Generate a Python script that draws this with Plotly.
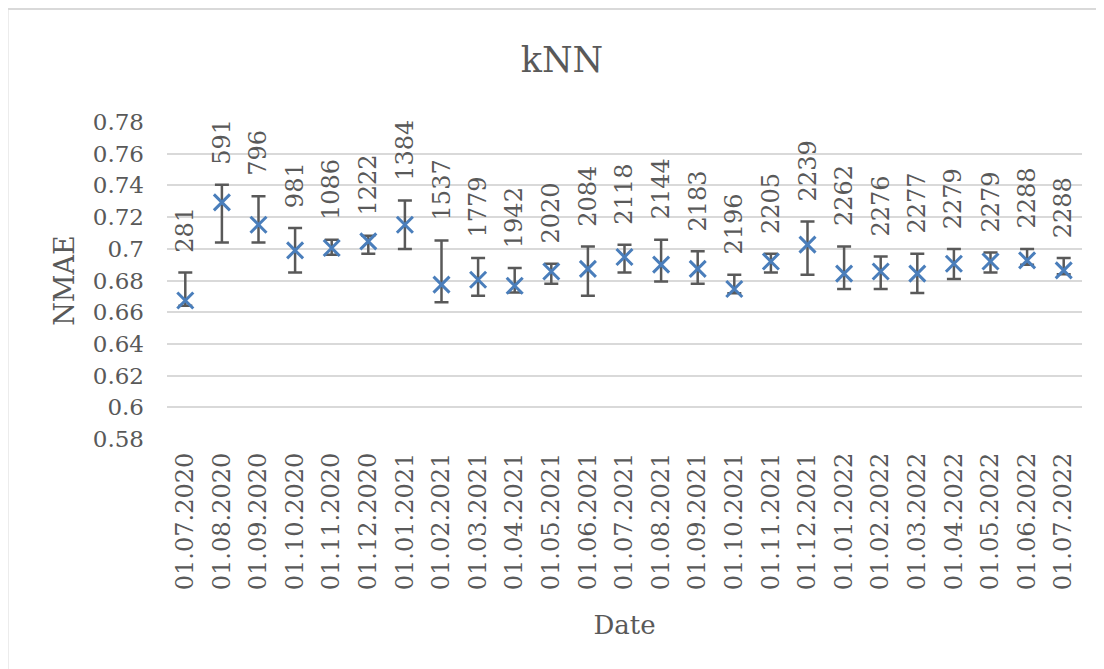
import plotly.graph_objects as go

dates = ["01.07.2020", "01.08.2020", "01.09.2020", "01.10.2020", "01.11.2020",
         "01.12.2020", "01.01.2021", "01.02.2021", "01.03.2021", "01.04.2021",
         "01.05.2021", "01.06.2021", "01.07.2021", "01.08.2021", "01.09.2021",
         "01.10.2021", "01.11.2021", "01.12.2021", "01.01.2022", "01.02.2022",
         "01.03.2022", "01.04.2022", "01.05.2022", "01.06.2022", "01.07.2022"]
nmae = [0.6674, 0.7293, 0.7152, 0.6990, 0.7005, 0.7047, 0.7152, 0.6774, 0.6805, 0.6767,
        0.6857, 0.6873, 0.6948, 0.6900, 0.6873, 0.6746, 0.6920, 0.7026, 0.6843, 0.6857,
        0.6843, 0.6906, 0.6920, 0.6927, 0.6864]
upper = [0.6851, 0.7404, 0.7331, 0.7131, 0.7057, 0.7083, 0.7305, 0.7053, 0.6942, 0.6879,
         0.6906, 0.7015, 0.7026, 0.7057, 0.6984, 0.6837, 0.6969, 0.7173, 0.7015, 0.6952,
         0.6969, 0.6999, 0.6977, 0.6999, 0.6942]
lower = [0.6640, 0.7040, 0.7040, 0.6851, 0.6963, 0.6969, 0.6999, 0.6662, 0.6704, 0.6725,
         0.6780, 0.6704, 0.6851, 0.6794, 0.6780, 0.6720, 0.6851, 0.6837, 0.6746, 0.6746,
         0.6721, 0.6809, 0.6851, 0.6900, 0.6840]
counts = ["281", "591", "796", "981", "1086", "1222", "1384", "1537", "1779", "1942",
          "2020", "2084", "2118", "2144", "2183", "2196", "2205", "2239", "2262", "2276",
          "2277", "2279", "2279", "2288", "2288"]
y_ticks = [0.58, 0.60, 0.62, 0.64, 0.66, 0.68, 0.70, 0.72, 0.74, 0.76, 0.78]
y_tick_text = ["0.58", "0.6", "0.62", "0.64", "0.66", "0.68", "0.7", "0.72", "0.74", "0.76", "0.78"]

FONT = "DejaVu Serif"
GREY = "#595959"
GRID = "#d9d9d9"

err_plus = [u - v for u, v in zip(upper, nmae)]
err_minus = [v - l for v, l in zip(nmae, lower)]

fig = go.Figure()
fig.add_trace(go.Scatter(
    x=dates, y=nmae, mode="markers",
    marker=dict(symbol="x-thin", size=16, line=dict(color="#4a7ebb", width=3), color="#4a7ebb"),
    error_y=dict(type="data", symmetric=False, array=err_plus, arrayminus=err_minus,
                 color=GREY, thickness=2.5, width=7),
    showlegend=False, hoverinfo="skip",
))

for d, u, c in zip(dates, upper, counts):
    fig.add_annotation(x=d, y=u, text=c, showarrow=False, textangle=-90,
                       xanchor="center", yanchor="bottom", yshift=18,
                       font=dict(family=FONT, size=24, color=GREY))

OFF = 8  # page body margin
W, H = 1104 - OFF, 669 - OFF
L, R, T, B = 167 - OFF, 1082 - OFF, 122 - OFF, 439 - OFF
def px(x):
    return (x - OFF - L) / (R - L)
def py(y):
    return (B - (y - OFF)) / (B - T)

fig.add_shape(type="line", xref="paper", yref="paper", x0=px(7.5), x1=px(7.5), y0=py(9), y1=py(680),
              line=dict(color=GRID, width=2))
fig.add_shape(type="line", xref="paper", yref="paper", x0=px(7.5), x1=px(1110), y0=py(9), y1=py(9),
              line=dict(color=GRID, width=2))

fig.update_layout(
    width=W, height=H,
    margin=dict(l=L, r=W - R, t=T, b=H - B),
    paper_bgcolor="white", plot_bgcolor="white",
    font=dict(family=FONT, color=GREY),
    title=dict(text="kNN", x=(562 - OFF) / W, xref="container", xanchor="center",
               y=1 - (60 - OFF) / H, yref="container", yanchor="middle",
               font=dict(family=FONT, size=35, color=GREY)),
    xaxis=dict(type="category", range=[-0.5, len(dates) - 0.5], tickangle=-90,
               tickfont=dict(family=FONT, size=24, color=GREY),
               showgrid=False, zeroline=False, showline=False, ticks="",
               ticklabelstandoff=8,
               title=dict(text="Date", font=dict(family=FONT, size=26, color=GREY), standoff=26)),
    yaxis=dict(range=[0.58, 0.78], tickvals=y_ticks, ticktext=y_tick_text,
               tickfont=dict(family=FONT, size=23, color=GREY),
               showgrid=True, gridcolor=GRID, gridwidth=2, zeroline=False, showline=False,
               ticks="", ticklabelstandoff=22,
               title=dict(text="NMAE", font=dict(family=FONT, size=27, color=GREY), standoff=10)),
)

fig.write_html("out.html")
